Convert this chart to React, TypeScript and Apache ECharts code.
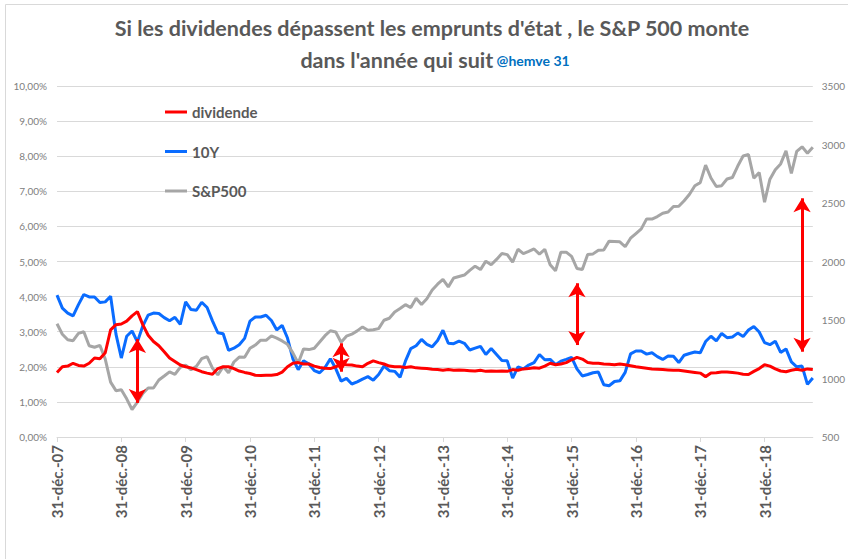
import React, { useEffect, useRef } from 'react';
import * as echarts from 'echarts';

// Month-end dates, Dec 2007 .. Sep 2019 (French Excel style)
const MONTH_NAMES = ['janv.', 'févr.', 'mars', 'avr.', 'mai', 'juin', 'juil.', 'août', 'sept.', 'oct.', 'nov.', 'déc.'];
const MONTH_DAYS = [31, 28, 31, 30, 31, 30, 31, 31, 30, 31, 30, 31];
const FIRST_YEAR = 2007;
const FIRST_MONTH = 11; // déc.
const MONTH_COUNT = 142;

const dates: string[] = [];
for (let i = 0; i < MONTH_COUNT; i++) {
  const m = (FIRST_MONTH + i) % 12;
  const y = FIRST_YEAR + Math.floor((FIRST_MONTH + i) / 12);
  const leap = y % 4 === 0;
  const d = m === 1 && leap ? 29 : MONTH_DAYS[m];
  dates.push(`${d}-${MONTH_NAMES[m]}-${String(y % 100).padStart(2, '0')}`);
}

// S&P 500 dividend yield (%)
const dividende = [
  1.84, 2.0, 2.02, 2.1, 2.04, 2.02, 2.1, 2.25, 2.23, 2.4, 3.05, 3.2, 3.22,
  3.3, 3.45, 3.57, 3.2, 2.9, 2.72, 2.6, 2.43, 2.25, 2.15, 2.05, 2.0,
  1.97, 1.92, 1.86, 1.82, 1.79, 1.95, 2.0, 2.0, 1.95, 1.88, 1.84, 1.81,
  1.76, 1.75, 1.76, 1.76, 1.78, 1.85, 2.0, 2.1, 2.12, 2.08, 2.08, 2.02,
  1.98, 1.96, 1.95, 2.0, 2.08, 2.06, 2.05, 2.02, 2.0, 2.1, 2.17, 2.12,
  2.08, 2.02, 2.0, 2.0, 1.98, 2.0, 1.97, 1.96, 1.95, 1.93, 1.92, 1.9,
  1.92, 1.9, 1.91, 1.9, 1.89, 1.88, 1.9, 1.87, 1.88, 1.87, 1.88, 1.87,
  1.92, 1.9, 1.94, 1.95, 1.97, 1.96, 2.02, 2.1, 2.06, 2.08, 2.12, 2.2,
  2.27, 2.22, 2.12, 2.1, 2.1, 2.08, 2.07, 2.06, 2.08, 2.06, 2.03, 2.0,
  1.98, 1.96, 1.94, 1.93, 1.92, 1.91, 1.9, 1.9, 1.88, 1.86, 1.84, 1.82,
  1.72, 1.82, 1.83, 1.85, 1.85, 1.84, 1.82, 1.79, 1.78, 1.87, 1.95, 2.06,
  2.02, 1.94, 1.88, 1.86, 1.9, 1.93, 1.9, 1.94, 1.92,
];

// US 10-year yield (%)
const tenY = [
  4.04,
  3.67, 3.53, 3.45, 3.77, 4.06, 3.99, 3.99, 3.83, 3.85, 4.01, 2.93, 2.25,
  2.87, 3.02, 2.71, 3.16, 3.47, 3.53, 3.52, 3.4, 3.31, 3.41, 3.21, 3.85,
  3.63, 3.61, 3.84, 3.69, 3.31, 2.97, 2.94, 2.47, 2.53, 2.63, 2.81, 3.3,
  3.42, 3.42, 3.47, 3.32, 3.05, 3.18, 2.82, 2.23, 1.92, 2.17, 2.08, 1.89,
  1.83, 1.98, 2.23, 1.95, 1.59, 1.67, 1.51, 1.57, 1.65, 1.72, 1.62, 1.78,
  2.02, 1.89, 1.87, 1.7, 2.16, 2.52, 2.6, 2.78, 2.64, 2.57, 2.75, 3.04,
  2.67, 2.66, 2.73, 2.67, 2.48, 2.53, 2.58, 2.35, 2.52, 2.35, 2.18, 2.17,
  1.68, 2.0, 1.94, 2.05, 2.12, 2.35, 2.2, 2.21, 2.06, 2.16, 2.21, 2.27,
  1.94, 1.74, 1.78, 1.83, 1.85, 1.49, 1.46, 1.58, 1.6, 1.84, 2.37, 2.45,
  2.45, 2.36, 2.4, 2.29, 2.21, 2.31, 2.3, 2.12, 2.33, 2.38, 2.42, 2.4,
  2.72, 2.87, 2.74, 2.95, 2.83, 2.85, 2.96, 2.86, 3.05, 3.15, 2.99, 2.69,
  2.63, 2.73, 2.41, 2.51, 2.14, 2.0, 2.02, 1.5, 1.68,
];

// S&P 500 index level
const sp500 = [
  1468,
  1378, 1331, 1323, 1386, 1400, 1280, 1267, 1283, 1166, 969, 896, 903,
  826, 735, 798, 873, 919, 919, 987, 1021, 1057, 1036, 1096, 1115,
  1074, 1104, 1169, 1187, 1089, 1031, 1102, 1049, 1141, 1183, 1181, 1258,
  1286, 1327, 1326, 1364, 1345, 1321, 1292, 1219, 1131, 1253, 1247, 1258,
  1312, 1366, 1408, 1398, 1310, 1362, 1379, 1407, 1441, 1412, 1416, 1426,
  1498, 1515, 1569, 1598, 1631, 1606, 1686, 1633, 1682, 1757, 1806, 1848,
  1783, 1859, 1872, 1884, 1924, 1960, 1931, 2003, 1972, 2018, 2068, 2059,
  1995, 2105, 2068, 2086, 2107, 2063, 2104, 1972, 1920, 2079, 2080, 2044,
  1940, 1932, 2060, 2065, 2097, 2099, 2174, 2171, 2168, 2126, 2199, 2239,
  2279, 2364, 2363, 2384, 2412, 2423, 2470, 2472, 2519, 2575, 2648, 2674,
  2824, 2714, 2641, 2648, 2705, 2718, 2816, 2902, 2914, 2712, 2760, 2507,
  2704, 2784, 2834, 2946, 2752, 2942, 2980, 2926, 2977,
];

// Annotation arrows (month index, top tip %, bottom tip %)
const arrowMonth = [15, 53, 97, 139];
const arrowTop = [2.79, 2.67, 4.38, 6.8];
const arrowBottom = [0.97, 1.86, 2.62, 2.43];

const TITLE_1 = "Si les dividendes dépassent les emprunts d'état , le S&P 500 monte";
const TITLE_2 = "dans l'année qui suit";
const HANDLE = '@hemve 31';

const FONT = 'Lato, "Open Sans", sans-serif';

export default function App() {
  const ref = useRef<HTMLDivElement>(null);
  useEffect(() => {
    if (!ref.current) return;
    const chart = echarts.init(ref.current, null, { renderer: 'svg' });
    const everyYear = (i: number) => i % 12 === 0;
    chart.setOption({
      animation: false,
      backgroundColor: '#ffffff',
      textStyle: { fontFamily: FONT },
      graphic: [
        {
          type: 'rect',
          shape: { x: 5.5, y: 4.5, width: 1000, height: 1000 },
          style: { fill: 'none', stroke: '#d9d9d9', lineWidth: 1 },
          silent: true,
        },
        {
          type: 'text',
          x: 432,
          y: 28,
          style: {
            text: TITLE_1,
            fill: '#595959',
            font: `bold 21.5px ${FONT}`,
            align: 'center',
            verticalAlign: 'middle',
          },
        },
        {
          type: 'text',
          x: 435,
          y: 60,
          style: {
            text: `{a|${TITLE_2}} {b|${HANDLE}}`,
            align: 'center',
            verticalAlign: 'middle',
            rich: {
              a: { fontSize: 21.5, fontWeight: 'bold', fontFamily: FONT, fill: '#595959' },
              b: { fontSize: 14, fontWeight: 'bold', fontFamily: FONT, fill: '#0070c0' },
            },
          },
        },
      ],
      legend: {
        orient: 'vertical',
        left: 160,
        top: 98,
        itemWidth: 22,
        itemHeight: 3,
        itemGap: 21.5,
        icon: 'rect',
        textStyle: { color: '#595959', fontWeight: 'bold', fontSize: 15, fontFamily: FONT, lineHeight: 18 },
        data: ['dividende', '10Y', 'S&P500'],
      },
      grid: { left: 57, right: 28, top: 86, bottom: 122 },
      xAxis: {
        type: 'category',
        data: dates,
        boundaryGap: false,
        axisLine: { lineStyle: { color: '#d9d9d9' } },
        axisTick: { show: true, interval: everyYear, length: 5, lineStyle: { color: '#d9d9d9' } },
        axisLabel: {
          interval: everyYear,
          rotate: 90,
          color: '#595959',
          fontWeight: 'bold',
          fontSize: 15,
          fontFamily: FONT,
          margin: 8,
        },
      },
      yAxis: [
        {
          type: 'value',
          min: 0,
          max: 10,
          interval: 1,
          position: 'left',
          axisLine: { show: false },
          axisTick: { show: false },
          axisLabel: {
            color: '#808080',
            fontSize: 10,
            fontFamily: FONT,
            margin: 10,
            formatter: (v: number) => v.toFixed(2).replace('.', ',') + '%',
          },
          splitLine: { lineStyle: { color: '#d9d9d9', width: 1 } },
        },
        {
          type: 'value',
          min: 500,
          max: 3500,
          interval: 500,
          position: 'right',
          axisLine: { show: false },
          axisTick: { show: false },
          axisLabel: {
            color: '#808080',
            fontSize: 10,
            fontFamily: FONT,
            margin: 9,
            formatter: (v: number) => String(v),
          },
          splitLine: { show: false },
        },
      ],
      series: [
        {
          name: 'dividende',
          type: 'line',
          data: dividende,
          yAxisIndex: 0,
          symbol: 'none',
          color: '#ff0000',
          lineStyle: { color: '#ff0000', width: 3 },
          z: 3,
          markLine: {
            silent: true,
            symbol: ['arrow', 'arrow'],
            symbolSize: [13, 14],
            lineStyle: { color: '#ff0000', width: 3, type: 'solid' },
            label: { show: false },
            emphasis: { disabled: true },
            data: arrowMonth.map((m, i) => [
              { coord: [m, arrowTop[i]] },
              { coord: [m, arrowBottom[i]] },
            ]),
          },
        },
        {
          name: '10Y',
          type: 'line',
          data: tenY,
          yAxisIndex: 0,
          symbol: 'none',
          color: '#0a6cff',
          lineStyle: { color: '#0a6cff', width: 3 },
          z: 2,
        },
        {
          name: 'S&P500',
          type: 'line',
          data: sp500,
          yAxisIndex: 1,
          symbol: 'none',
          color: '#a6a6a6',
          lineStyle: { color: '#a6a6a6', width: 3 },
          z: 2,
        },
      ],
    });
    return () => chart.dispose();
  }, []);
  return <div ref={ref} style={{ position: 'fixed', left: 0, top: 0, width: 848, height: 559 }} />;
}
